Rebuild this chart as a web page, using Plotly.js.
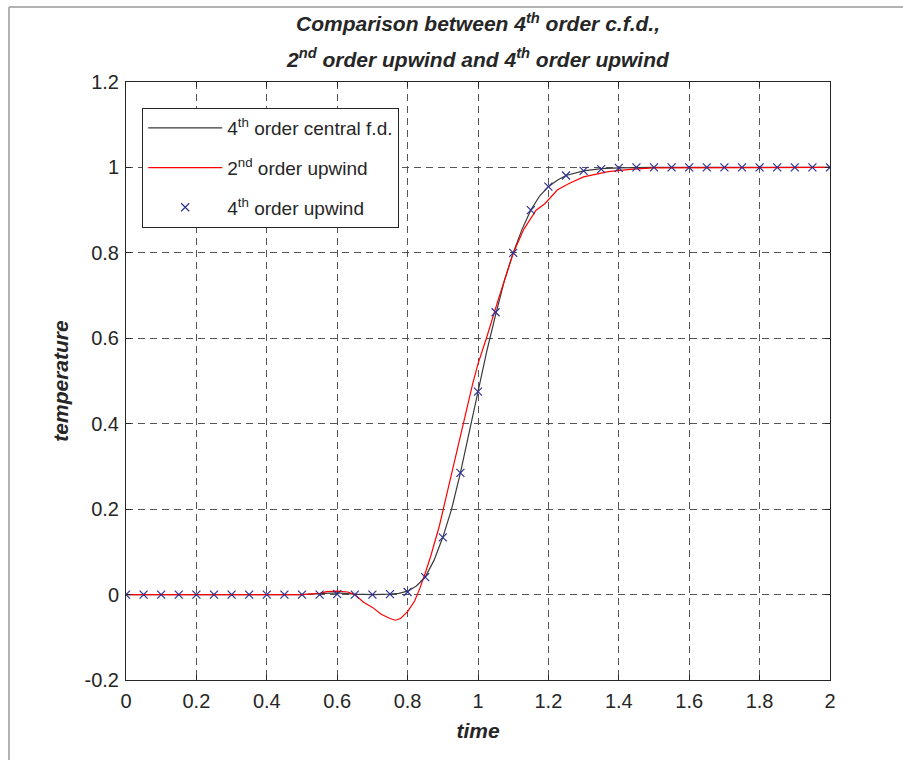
<!DOCTYPE html>
<html>
<head>
<meta charset="utf-8">
<script src="https://cdn.plot.ly/plotly-3.0.1.min.js"></script>
<style>html,body{margin:0;padding:0;background:#fff;}#chart{width:903px;height:760px;}</style>
</head>
<body>
<div id="chart"></div>
<script>
// 4th order central f.d. (black line)
const cfdX = [0, 0.5, 0.55, 0.6, 0.65, 0.7, 0.75, 0.775, 0.8, 0.825, 0.85, 0.875, 0.9, 0.925, 0.95, 0.975, 1.0, 1.025, 1.05, 1.075, 1.1, 1.125, 1.15, 1.175, 1.2, 1.225, 1.25, 1.3, 1.35, 1.4, 1.5, 2];
const cfdY = [0, 0, 0.002, 0.004, 0.001, 0, 0.001, 0.003, 0.008, 0.02, 0.041, 0.08, 0.134, 0.2, 0.285, 0.38, 0.475, 0.57, 0.655, 0.735, 0.8, 0.855, 0.9, 0.933, 0.955, 0.97, 0.981, 0.992, 0.997, 0.999, 1, 1];

// 2nd order upwind (red line)
const up2X = [0, 0.5, 0.55, 0.57, 0.6, 0.63, 0.65, 0.675, 0.7, 0.725, 0.75, 0.765, 0.78, 0.8, 0.82, 0.835, 0.85, 0.865, 0.89, 0.91, 0.93, 0.96, 0.985, 1.0, 1.025, 1.06, 1.08, 1.1, 1.13, 1.165, 1.19, 1.225, 1.26, 1.3, 1.37, 1.44, 1.5, 2];
const up2Y = [0, 0, 0.003, 0.007, 0.008, 0.006, 0.0, -0.018, -0.03, -0.046, -0.056, -0.06, -0.056, -0.04, -0.015, 0.015, 0.05, 0.088, 0.16, 0.23, 0.3, 0.41, 0.494, 0.54, 0.603, 0.697, 0.75, 0.799, 0.855, 0.9, 0.915, 0.947, 0.963, 0.978, 0.99, 0.996, 0.999, 1];

// 4th order upwind (markers)
const up4X = [0, 0.05, 0.1, 0.15, 0.2, 0.25, 0.3, 0.35, 0.4, 0.45, 0.5, 0.55, 0.6, 0.65, 0.7, 0.75, 0.8, 0.85, 0.9, 0.95, 1.0, 1.05, 1.1, 1.15, 1.2, 1.25, 1.3, 1.35, 1.4, 1.45, 1.5, 1.55, 1.6, 1.65, 1.7, 1.75, 1.8, 1.85, 1.9, 1.95, 2.0];
const up4Y = [0, 0, 0, 0, 0, 0, 0, 0, 0, 0, 0, 0, 0.001, 0, 0, 0.001, 0.006, 0.041, 0.134, 0.285, 0.475, 0.661, 0.800, 0.900, 0.955, 0.981, 0.992, 0.996, 0.999, 1, 1, 1, 1, 1, 1, 1, 1, 1, 1, 1, 1];

const xTicks = [0, 0.2, 0.4, 0.6, 0.8, 1, 1.2, 1.4, 1.6, 1.8, 2];
const yTicks = [-0.2, 0, 0.2, 0.4, 0.6, 0.8, 1, 1.2];

const titleLine1 = '<b><i>Comparison between 4<sup>th</sup> order c.f.d.,</i></b>';
const titleLine2 = '<b><i>2<sup>nd</sup> order upwind and 4<sup>th</sup> order upwind</i></b>';

const FONT = 'Liberation Sans, Arial, sans-serif';
const TXT = '#262626';

const traces = [
  {x: cfdX, y: cfdY, type: 'scatter', mode: 'lines', name: '4<sup>th</sup> order central f.d.',
   legendgroup: 'a', line: {color: '#3a3a3a', width: 1.2}},
  {x: up2X, y: up2Y, type: 'scatter', mode: 'lines', name: '2<sup>nd</sup> order upwind',
   legendgroup: 'b', line: {color: '#ff0000', width: 1.2}},
  {x: up4X, y: up4Y, type: 'scatter', mode: 'markers', name: '4<sup>th</sup> order upwind',
   legendgroup: 'c',
   marker: {symbol: 'x-thin-open', size: 8, color: '#2e3192', line: {color: '#2e3192', width: 1.2}}}
];

const axisCommon = {
  showline: true, mirror: 'ticks', linecolor: TXT, linewidth: 1,
  ticks: 'inside', ticklen: 5, tickcolor: TXT,
  showgrid: true, gridcolor: '#555', gridwidth: 1, griddash: '7px,5px',
  zeroline: false,
  tickfont: {family: FONT, size: 20, color: TXT}
};

const layout = {
  width: 903, height: 760,
  margin: {l: 126, r: 73, t: 82, b: 80},
  paper_bgcolor: '#fff', plot_bgcolor: '#fff',
  font: {family: FONT, color: TXT},
  title: {
    text: titleLine1,
    font: {family: FONT, size: 21, color: TXT},
    x: 0.5, xref: 'paper', xanchor: 'center',
    y: 1 - 24 / 760, yref: 'container', yanchor: 'middle'
  },
  annotations: [
    {text: titleLine2, xref: 'paper', yref: 'paper', x: 0.5, y: (680 - 58) / 598,
     xanchor: 'center', yanchor: 'middle', showarrow: false,
     font: {family: FONT, size: 21, color: TXT}}
  ],
  xaxis: Object.assign({}, axisCommon, {
    range: [0, 2], tickvals: xTicks, ticktext: xTicks.map(String), ticklabelstandoff: 3,
    title: {text: '<b><i>time</i></b>', font: {family: FONT, size: 21, color: TXT}, standoff: 12}
  }),
  yaxis: Object.assign({}, axisCommon, {
    range: [-0.2, 1.2], tickvals: yTicks, ticktext: yTicks.map(String), ticklabelstandoff: 2,
    title: {text: '<b><i>temperature</i></b>', font: {family: FONT, size: 21, color: TXT}, standoff: 10}
  }),
  showlegend: true,
  legend: {
    x: 0.023, y: (680 - 108) / 598, xanchor: 'left', yanchor: 'top',
    bgcolor: '#fff', bordercolor: TXT, borderwidth: 1,
    font: {family: FONT, size: 19, color: TXT},
    tracegroupgap: 12,
    itemwidth: 74
  },
  shapes: [
    {type: 'line', xref: 'paper', yref: 'paper', x0: -0.1662, x1: 1.2, y0: 1.1254, y1: 1.1254,
     line: {color: '#999', width: 1.5}},
    {type: 'line', xref: 'paper', yref: 'paper', x0: -0.1662, x1: -0.1662, y0: 1.1254, y1: -0.2,
     line: {color: '#999', width: 1.5}}
  ]
};

Plotly.newPlot('chart', traces, layout, {displayModeBar: false, staticPlot: true});
</script>
</body>
</html>
